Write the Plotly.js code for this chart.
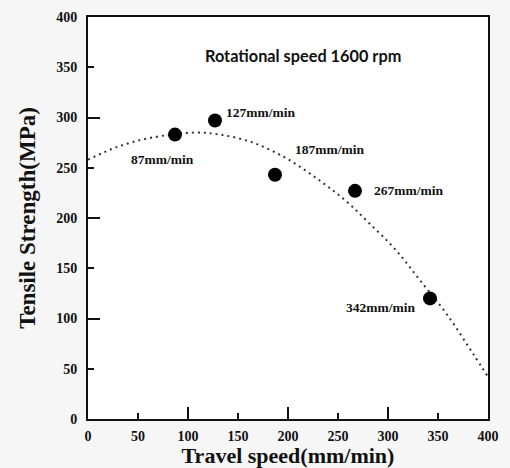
<!DOCTYPE html>
<html>
<head>
<meta charset="utf-8">
<script src="https://cdn.plot.ly/plotly-3.0.1.min.js"></script>
<style>html,body{margin:0;padding:0;background:#f6f6f6;}#chart{width:510px;height:468px;}</style>
</head>
<body>
<div id="chart"></div>
<script>
// Measured data
const travelSpeed = [87, 127, 187, 267, 342];
const tensileStrength = [283, 297, 243, 227, 120];
const pointLabels = ['87mm/min', '127mm/min', '187mm/min', '267mm/min', '342mm/min'];

// Trend (dotted) curve
const trendX = [0, 30, 64, 107, 132, 165, 199, 232, 259, 281, 307, 332, 359, 385, 400];
const trendY = [258, 271, 280, 285, 283, 275, 259, 237, 216, 195, 169, 138, 104, 65, 42];

// Tick labels
const tickVals = [0, 50, 100, 150, 200, 250, 300, 350, 400];
const majorTickVals = [0, 100, 200, 300, 400];

const serif = 'Liberation Serif, Times New Roman, serif';

// label offsets in px (layout only)
const labelShift = [
  {xs: -13, ys: -25, xa: 'center'},
  {xs: 9, ys: 8, xa: 'left'},
  {xs: 18, ys: 25, xa: 'left'},
  {xs: 17, ys: 0, xa: 'left'},
  {xs: -13, ys: -9, xa: 'right'}
];

const traces = [
  {
    x: trendX, y: trendY, type: 'scatter', mode: 'lines',
    line: {color: '#333', width: 2, dash: '2px,4px', shape: 'spline', smoothing: 1},
    hoverinfo: 'skip', xaxis: 'x', yaxis: 'y'
  },
  {
    x: travelSpeed, y: tensileStrength, type: 'scatter', mode: 'markers',
    marker: {color: '#000', size: 14}, xaxis: 'x', yaxis: 'y'
  },
  {x: [], y: [], type: 'scatter', mode: 'markers', xaxis: 'x2', yaxis: 'y2', hoverinfo: 'skip'}
];

const annotations = pointLabels.map((t, i) => ({
  x: travelSpeed[i], y: tensileStrength[i], xref: 'x', yref: 'y',
  text: t, showarrow: false,
  xanchor: labelShift[i].xa, yanchor: 'middle',
  xshift: labelShift[i].xs, yshift: labelShift[i].ys,
  font: {family: serif, size: 13.5, color: '#111', weight: 'bold'}
}));
annotations.push({
  xref: 'paper', yref: 'paper', x: 0.288, y: 0.905, xanchor: 'left', yanchor: 'middle',
  text: '<b>Rotational speed 1600 rpm</b>', showarrow: false,
  font: {family: 'Lato, Noto Sans, sans-serif', size: 16.3, color: '#111'}
});

const tickFont = {family: serif, size: 14, color: '#111', weight: 'bold'};

const layout = {
  width: 510, height: 468,
  margin: {l: 88, r: 22, t: 17, b: 49},
  paper_bgcolor: '#f6f6f6', plot_bgcolor: '#ffffff',
  showlegend: false,
  xaxis: {
    range: [0, 400], tickvals: tickVals, ticktext: tickVals.map(String),
    ticks: 'inside', ticklen: 6, tickwidth: 2, tickcolor: '#111',
    showline: true, linewidth: 2, linecolor: '#111', mirror: true,
    showgrid: false, zeroline: false, tickfont: tickFont, ticklabelstandoff: 3,
    title: {text: '<b>Travel speed(mm/min)</b>', font: {family: serif, size: 22, color: '#111'}, standoff: 4}
  },
  yaxis: {
    range: [0, 400], tickvals: tickVals, ticktext: tickVals.map(String),
    ticks: 'inside', ticklen: 6, tickwidth: 2, tickcolor: '#111',
    showline: true, linewidth: 2, linecolor: '#111', mirror: true,
    showgrid: false, zeroline: false, tickfont: tickFont, ticklabelstandoff: 6,
    title: {text: '<b>Tensile Strength(MPa)</b>', font: {family: serif, size: 23, color: '#111'}, standoff: 14}
  },
  xaxis2: {
    overlaying: 'x', anchor: 'y2', range: [0, 400], tickvals: majorTickVals,
    ticks: 'inside', ticklen: 12, tickwidth: 2, tickcolor: '#111',
    showticklabels: false, showline: false, showgrid: false, zeroline: false
  },
  yaxis2: {
    overlaying: 'y', anchor: 'x2', range: [0, 400], tickvals: majorTickVals,
    ticks: 'inside', ticklen: 12, tickwidth: 2, tickcolor: '#111',
    showticklabels: false, showline: false, showgrid: false, zeroline: false
  },
  annotations: annotations
};

Plotly.newPlot('chart', traces, layout, {displayModeBar: false, staticPlot: true});
</script>
</body>
</html>
